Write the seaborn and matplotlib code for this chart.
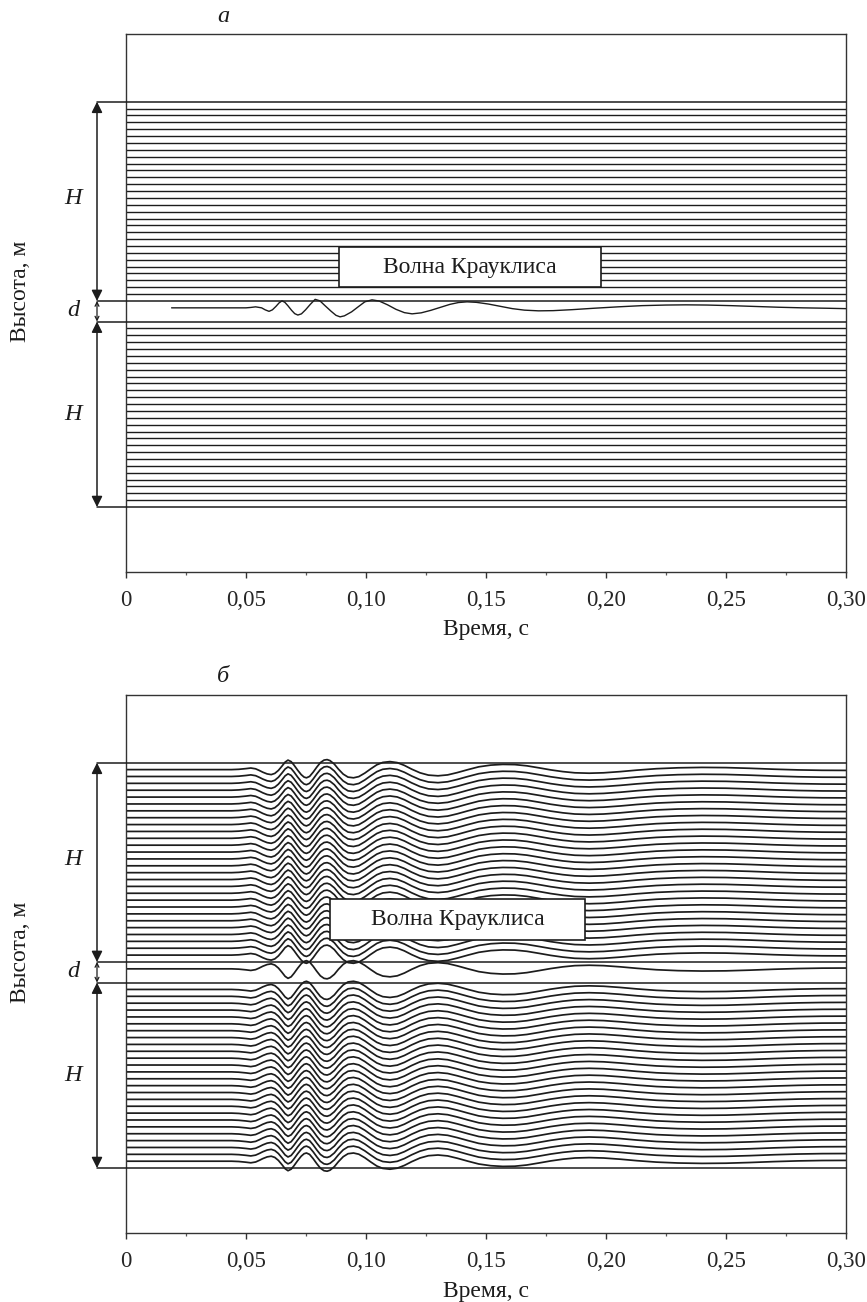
import numpy as np
import pandas as pd
import matplotlib
matplotlib.use("Agg")
import matplotlib.pyplot as plt
from matplotlib.patches import Rectangle
import seaborn as sns

# ---------------- data ----------------
# trace heights (m), uniform receiver grid
upper_heights = [2.5, 3.5, 4.5, 5.5, 6.5, 7.5, 8.5, 9.5, 10.5, 11.5, 12.5, 13.5, 14.5,
                 15.5, 16.5, 17.5, 18.5, 19.5, 20.5, 21.5, 22.5, 23.5, 24.5, 25.5,
                 26.5, 27.5, 28.5, 29.5]
lower_heights = [-2.5, -3.5, -4.5, -5.5, -6.5, -7.5, -8.5, -9.5, -10.5, -11.5, -12.5,
                 -13.5, -14.5, -15.5, -16.5, -17.5, -18.5, -19.5, -20.5, -21.5, -22.5,
                 -23.5, -24.5, -25.5, -26.5, -27.5]
layer_height = 0.5
boundaries = [30.5, 1.5, -1.5, -28.5]   # top of H, top of d, bottom of d, bottom of H

# panel a: Krauklis wave in the fluid layer (time s, displacement rel. units)
t_kr = [0.019, 0.050, 0.052, 0.054, 0.0565, 0.058, 0.0596, 0.061, 0.0625, 0.0638,
        0.0650, 0.0662, 0.0675, 0.069, 0.0703, 0.0716, 0.0731, 0.0748, 0.0768, 0.0788,
        0.0808, 0.083, 0.0855, 0.0875, 0.0892, 0.091, 0.094, 0.097, 0.0995, 0.1025,
        0.1055, 0.109, 0.1125, 0.116, 0.1192, 0.123, 0.127, 0.131, 0.135, 0.1385,
        0.1421, 0.146, 0.151, 0.156, 0.161, 0.166, 0.1719, 0.178, 0.186, 0.195,
        0.205, 0.215, 0.225, 0.2333, 0.242, 0.252, 0.262, 0.272, 0.282, 0.292, 0.300]
u_kr = [0.0, 0.0, 0.4, 1.0, 0.0, -2.0, -3.5, -2.0, 1.5, 5.0,
        7.0, 5.5, 2.0, -2.5, -5.8, -7.2, -6.0, -2.0, 3.5, 8.5,
        7.0, 2.0, -3.5, -7.5, -9.0, -8.0, -4.0, 1.5, 6.0, 8.0,
        6.8, 3.0, -1.5, -4.8, -6.0, -5.0, -2.5, 0.5, 3.5, 5.3,
        6.0, 5.5, 3.8, 1.5, -0.8, -2.3, -3.0, -2.8, -1.8, -0.4,
        1.0, 2.2, 2.8, 3.0, 2.8, 2.2, 1.4, 0.6, 0.0, -0.4, -0.8]

# panel b: displacement of traces above the layer (below the layer: mirrored)
t_w = [0.000, 0.044, 0.047, 0.050, 0.052, 0.054, 0.0555, 0.057, 0.0588, 0.0605,
       0.062, 0.0635, 0.065, 0.0663, 0.0675, 0.0688, 0.070, 0.0715, 0.073, 0.0742,
       0.0752, 0.0765, 0.078, 0.0795, 0.081, 0.0825, 0.0838, 0.085, 0.0868, 0.0885,
       0.0905, 0.0925, 0.0948, 0.097, 0.0995, 0.102, 0.1045, 0.107, 0.110, 0.113,
       0.116, 0.119, 0.1225, 0.126, 0.130, 0.134, 0.138, 0.1425, 0.147, 0.152,
       0.157, 0.162, 0.167, 0.172, 0.177, 0.182, 0.187, 0.193, 0.199, 0.206,
       0.213, 0.221, 0.230, 0.240, 0.250, 0.260, 0.270, 0.280, 0.290, 0.300]
u_w = [0.0, 0.0, 0.3, 1.0, 1.6, 0.8, -0.8, -2.6, -4.3, -5.0,
       -3.8, -0.8, 3.5, 7.5, 9.5, 8.0, 4.5, -0.5, -5.0, -7.5,
       -8.2, -6.8, -2.5, 2.5, 7.0, 9.5, 10.0, 9.0, 5.5, 0.5,
       -4.5, -7.5, -8.2, -7.0, -3.5, 0.8, 4.8, 7.2, 8.0, 7.0,
       4.2, 0.5, -3.2, -5.5, -6.2, -5.3, -3.0, 0.0, 2.8, 4.5,
       5.2, 5.0, 3.8, 1.8, -0.3, -2.0, -3.2, -3.6, -3.2, -2.0,
       -0.5, 0.9, 1.8, 2.2, 2.0, 1.3, 0.4, -0.3, -0.7, -0.8]

xticks = [0, 0.05, 0.10, 0.15, 0.20, 0.25, 0.30]
xtick_labels = ["0", "0,05", "0,10", "0,15", "0,20", "0,25", "0,30"]

GAIN = 1 / 6.87  # display gain of traces

# ---------------- style ----------------
sns.set_theme(style="white")
plt.rcParams["font.family"] = ["Liberation Serif", "DejaVu Serif"]

FIG_W, FIG_H = 867, 1302
fig = plt.figure(figsize=(FIG_W / 100, FIG_H / 100), dpi=100)

LEFT, RIGHT = 126, 846
YMAX, YMIN = 40.36, -37.95
INK = "#1c1c1c"
FS = 16.5


def build_panel_a():
    rows = []
    for i, h in enumerate(upper_heights + lower_heights):
        for t in (0.0, 0.30):
            rows.append(("s%d" % i, t, h))
    for t, u in zip(t_kr, u_kr):
        rows.append(("kr", t, layer_height + GAIN * u))
    return pd.DataFrame(rows, columns=["trace", "t", "y"])


def build_panel_b():
    rows = []
    for i, h in enumerate(upper_heights):
        for t, u in zip(t_w, u_w):
            rows.append(("u%d" % i, t, h + GAIN * u))
    for i, h in enumerate(lower_heights + [layer_height]):
        for t, u in zip(t_w, u_w):
            rows.append(("l%d" % i, t, h - GAIN * u))
    return pd.DataFrame(rows, columns=["trace", "t", "y"])


def setup_axes(ax):
    ax.set_xlim(0, 0.30)
    ax.set_ylim(YMIN, YMAX)
    ax.set_xticks(xticks)
    ax.set_xticklabels(xtick_labels)
    ax.set_xticks([0.025, 0.075, 0.125, 0.175, 0.225, 0.275], minor=True)
    ax.set_yticks([])
    ax.tick_params(axis="x", which="major", direction="out", length=4, width=1,
                   color="#333333", labelsize=FS, pad=9, bottom=True)
    ax.tick_params(axis="x", which="minor", direction="out", length=2.5, width=0.9,
                   color="#555555", bottom=True)
    ax.set_xlabel("")
    ax.set_ylabel("")
    for sp in ax.spines.values():
        sp.set_visible(True)
        sp.set_color("#333333")
        sp.set_linewidth(1.0)


def decorate(ax, box):
    tr = ax.get_yaxis_transform()
    xa = (97 - LEFT) / (RIGHT - LEFT)
    for b in boundaries:
        ax.plot([xa, 1.0], [b, b], transform=tr, color=INK, lw=1.1, clip_on=False,
                zorder=4)
    arrow_h = dict(arrowstyle="<|-|>", color=INK, lw=1.1, mutation_scale=16,
                   shrinkA=0, shrinkB=0)
    arrow_d = dict(arrowstyle="<->", color=INK, lw=0.9, mutation_scale=7,
                   shrinkA=0, shrinkB=0)
    ax.annotate("", xy=(xa, boundaries[0]), xytext=(xa, boundaries[1]),
                xycoords=tr, textcoords=tr, arrowprops=arrow_h, annotation_clip=False)
    ax.annotate("", xy=(xa, boundaries[1]), xytext=(xa, boundaries[2]),
                xycoords=tr, textcoords=tr, arrowprops=arrow_d, annotation_clip=False)
    ax.annotate("", xy=(xa, boundaries[2]), xytext=(xa, boundaries[3]),
                xycoords=tr, textcoords=tr, arrowprops=arrow_h, annotation_clip=False)
    xl = (73 - LEFT) / (RIGHT - LEFT)
    ax.text(xl, (boundaries[0] + boundaries[1]) / 2 + 0.4, "H", transform=tr,
            ha="center", va="center", fontsize=FS + 1, style="italic", color=INK)
    ax.text(xl, 0.1, "d", transform=tr, ha="center", va="center", fontsize=FS + 1,
            style="italic", color=INK)
    ax.text(xl, (boundaries[2] + boundaries[3]) / 2, "H", transform=tr,
            ha="center", va="center", fontsize=FS + 1, style="italic", color=INK)
    x0, x1, y0, y1 = box
    ax.add_patch(Rectangle((x0, y0), x1 - x0, y1 - y0, facecolor="white",
                           edgecolor=INK, lw=1.2, zorder=5))
    ax.text((x0 + x1) / 2, (y0 + y1) / 2, "Волна Крауклиса", ha="center",
            va="center", fontsize=FS + 0.5, color=INK, zorder=6)


def px_to_fig(x, y):
    return x / FIG_W, 1 - y / FIG_H


ax1 = fig.add_axes([LEFT / FIG_W, 1 - 572 / FIG_H, (RIGHT - LEFT) / FIG_W, 538 / FIG_H])
ax2 = fig.add_axes([LEFT / FIG_W, 1 - 1233 / FIG_H, (RIGHT - LEFT) / FIG_W, 538 / FIG_H])

sns.lineplot(data=build_panel_a(), x="t", y="y", units="trace", estimator=None,
             sort=False, color=INK, lw=1.0, ax=ax1, legend=False)
sns.lineplot(data=build_panel_b(), x="t", y="y", units="trace", estimator=None,
             sort=False, color=INK, lw=1.25, ax=ax2, legend=False)

for ax in (ax1, ax2):
    setup_axes(ax)

decorate(ax1, (0.08875, 0.1979, 3.53, 9.35))
decorate(ax2, (0.0850, 0.1913, 4.69, 10.66))

# texts
for off, letter in ((0, "а"), (661, "б")):
    fx, fy = px_to_fig(223, 16 + off)
    fig.text(fx, fy, letter, ha="center", va="center", fontsize=FS + 1,
             style="italic", color=INK)
    fx, fy = px_to_fig(21, 291 + off)
    fig.text(fx, fy, "Высота, м", ha="center", va="center", rotation=90,
             fontsize=FS + 0.5, color=INK)
    fx, fy = px_to_fig(486, 630 + off)
    fig.text(fx, fy, "Время, с", ha="center", va="center", fontsize=FS + 0.5,
             color=INK)

fig.savefig("out.png", dpi=100, facecolor="white")
